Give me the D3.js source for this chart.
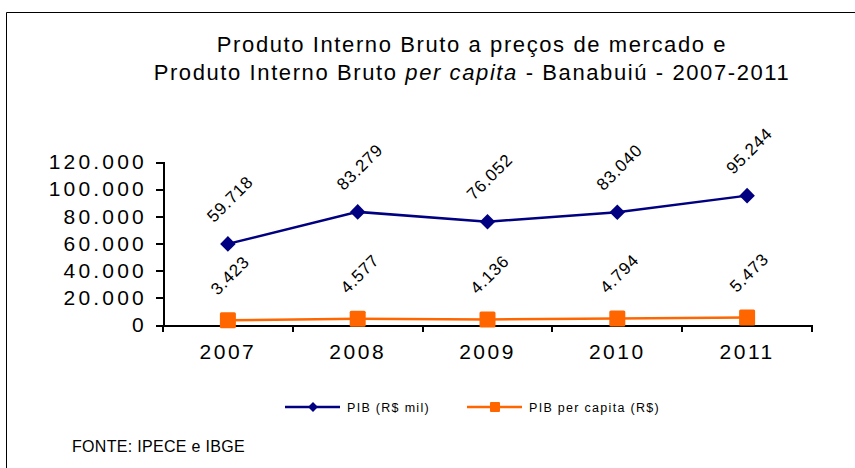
<!DOCTYPE html>
<meta charset="utf-8">
<style>
  html, body { margin: 0; padding: 0; background: #fff; overflow: hidden; }
  body { font-family: "Liberation Sans", Arial, sans-serif; }
  .axis path, .axis line { stroke: #000; stroke-width: 2px; fill: none; shape-rendering: crispEdges; }
  .axis text { fill: #000; font-family: "Liberation Sans", Arial, sans-serif; }
</style>
<svg></svg>
<script src="https://cdnjs.cloudflare.com/ajax/libs/d3/7.8.5/d3.min.js"></script>
<script>

var years = ["2007", "2008", "2009", "2010", "2011"];
var pib = [59718, 83279, 76052, 83040, 95244];
var pibPerCapita = [3423, 4577, 4136, 4794, 5473];
var yTicks = [0, 20000, 40000, 60000, 80000, 100000, 120000];

var W = 855, H = 468;
var margin = {top: 162, right: 43, bottom: 143, left: 163},
    width = W - margin.left - margin.right,
    height = H - margin.top - margin.bottom;

var svg = d3.select("svg").attr("width", W).attr("height", H);

// moldura
svg.append("path")
    .attr("d", "M6.5,468 V12.5 H855")
    .attr("fill", "none")
    .attr("stroke", "#000")
    .attr("stroke-width", 1);

var fmt = function(d) {
  return d3.format(",")(d).replace(/,/g, ".");
};

var title = svg.append("text")
    .attr("text-anchor", "middle")
    .style("font-size", "22px")
    .style("letter-spacing", "1.6px");
title.append("tspan").attr("x", 472).attr("y", 52)
    .text("Produto Interno Bruto a preços de mercado  e");
var l2 = title.append("tspan").attr("x", 472).attr("y", 80);
l2.append("tspan").text("Produto Interno Bruto ");
l2.append("tspan").style("font-style", "italic").text("per capita");
l2.append("tspan").text(" -  Banabuiú - 2007-2011");

var g = svg.append("g")
    .attr("transform", "translate(" + margin.left + "," + margin.top + ")");

var x = d3.scaleBand().domain(years).range([0, width]);
var y = d3.scaleLinear().domain([0, 120000]).range([height, 0]);

g.append("g")
    .attr("class", "axis")
    .call(d3.axisLeft(y).tickValues(yTicks).tickFormat(fmt).tickSizeOuter(0).tickSize(7).tickPadding(9))
    .selectAll("text")
    .style("font-size", "21px")
    .style("letter-spacing", "3.2px");

var xAxis = g.append("g")
    .attr("class", "axis")
    .attr("transform", "translate(0," + height + ")")
    .call(d3.axisBottom(x).tickSize(0).tickSizeOuter(0).tickPadding(19));
xAxis.selectAll("text")
    .style("font-size", "21px")
    .style("letter-spacing", "2.5px");
// marcas entre categorias
xAxis.selectAll(".sep")
    .data(years.concat(["end"]))
  .enter().append("line")
    .attr("class", "sep")
    .attr("x1", function(d, i) { return i * x.bandwidth(); })
    .attr("x2", function(d, i) { return i * x.bandwidth(); })
    .attr("y1", 0).attr("y2", 7);

var cx = function(i) { return x(years[i]) + x.bandwidth() / 2; };

var series = [
  {values: pib, color: "#000080", shape: "diamond"},
  {values: pibPerCapita, color: "#FF6600", shape: "square"}
];

series.forEach(function(s) {
  var line = d3.line()
      .x(function(d, i) { return cx(i); })
      .y(function(d) { return y(d); });
  g.append("path")
      .datum(s.values)
      .attr("d", line)
      .attr("fill", "none")
      .attr("stroke", s.color)
      .attr("stroke-width", 2.5);

  var sq = s.shape === "square";
  g.selectAll(null)
      .data(s.values)
    .enter().append("rect")
      .attr("x", -7).attr("y", -7)
      .attr("width", sq ? 16 : 11).attr("height", sq ? 16 : 11)
      .attr("rx", sq ? 1.5 : 0)
      .attr("transform", function(d, i) {
        return sq
          ? "translate(" + (cx(i) - 1) + "," + (y(d) - 1) + ")"
          : "translate(" + cx(i) + "," + y(d) + ") rotate(45) translate(1.5,1.5)";
      })
      .attr("fill", s.color);

  g.selectAll(null)
      .data(s.values)
    .enter().append("text")
      .attr("transform", function(d, i) {
        return "translate(" + (cx(i) + 2) + "," + (y(d) - 45) + ") rotate(-45)";
      })
      .attr("text-anchor", "middle")
      .attr("dy", "0.35em")
      .style("font-size", "17px")
      .style("letter-spacing", "0.8px")
      .text(function(d) { return fmt(d); });
});

// legenda
var legend = svg.append("g").attr("transform", "translate(0,407)");
var items = [
  {label: "PIB (R$ mil)", color: "#000080", x: 285, shape: "diamond"},
  {label: "PIB per capita (R$)", color: "#FF6600", x: 467, shape: "square"}
];
items.forEach(function(it) {
  legend.append("line")
      .attr("x1", it.x).attr("x2", it.x + 55)
      .attr("y1", 0).attr("y2", 0)
      .attr("stroke", it.color).attr("stroke-width", 2.5);
  if (it.shape === "diamond") {
    legend.append("rect")
        .attr("x", -3.5).attr("y", -3.5).attr("width", 7).attr("height", 7)
        .attr("transform", "translate(" + (it.x + 28) + ",0) rotate(45)")
        .attr("fill", it.color);
  } else {
    legend.append("rect")
        .attr("x", it.x + 23).attr("y", -5)
        .attr("width", 10).attr("height", 10).attr("rx", 1)
        .attr("fill", it.color);
  }
  legend.append("text")
      .attr("x", it.x + 62).attr("y", 4.5)
      .style("font-size", "12.5px")
      .style("letter-spacing", "1.3px")
      .text(it.label);
});

svg.append("text")
    .attr("x", 72).attr("y", 452)
    .style("font-size", "16px")
    .style("letter-spacing", "0.3px")
    .text("FONTE: IPECE e IBGE");
</script>
